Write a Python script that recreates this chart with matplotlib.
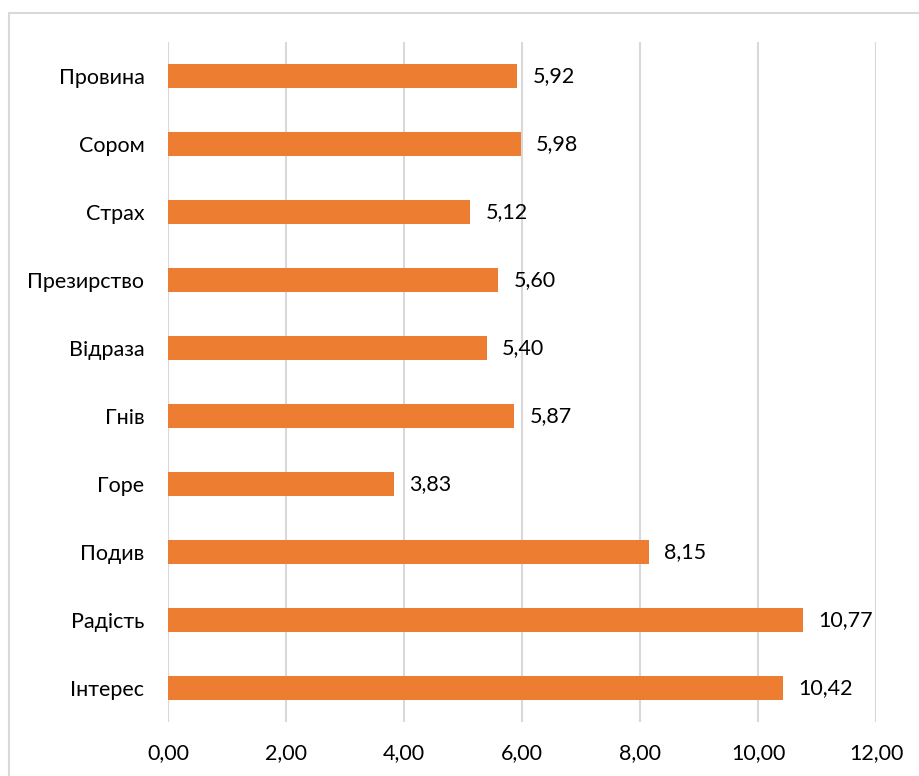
import matplotlib.pyplot as plt
from matplotlib.patches import Rectangle

# emotion scores, listed bottom to top
emotions = ['Інтерес', 'Радість', 'Подив', 'Горе', 'Гнів',
            'Відраза', 'Презирство', 'Страх', 'Сором', 'Провина']
scores = [10.42, 10.77, 8.15, 3.83, 5.87, 5.40, 5.60, 5.12, 5.98, 5.92]
x_ticks = [0, 2, 4, 6, 8, 10, 12]

plt.rcParams['font.family'] = ['Lato', 'DejaVu Sans']

fig = plt.figure(figsize=(9.2, 7.76), dpi=100)
ax = fig.add_axes([168 / 920, 1 - 722 / 776, (876 - 168) / 920, (722 - 42) / 776])

# chart frame (light grey outline)
fig.patches.append(Rectangle((9 / 920, -0.05), 1.0, 1.05 - 13 / 776,
                             transform=fig.transFigure, fill=False,
                             edgecolor='#D9D9D9', linewidth=1.5))

y = range(len(emotions))
ax.barh(y, scores, height=0.35, color='#ED7D31', zorder=3)

for i, v in enumerate(scores):
    ax.annotate(f'{v:.2f}'.replace('.', ','), (v, i), xytext=(11, 0),
                textcoords='offset points', va='center', ha='left',
                fontsize=15.5, color='#000000')

ax.set_xlim(0, 12)
ax.set_ylim(-0.5, len(emotions) - 0.5)
ax.set_xticks(x_ticks)
ax.set_xticklabels([f'{t:.2f}'.replace('.', ',') for t in x_ticks], fontsize=15.5)
ax.set_yticks(list(y))
ax.set_yticklabels(emotions, fontsize=15.5)
ax.tick_params(length=0)
ax.tick_params(axis='x', pad=15)
ax.tick_params(axis='y', pad=17)

ax.grid(axis='x', color='#D9D9D9', linewidth=1.5, zorder=0)
for s in ax.spines.values():
    s.set_visible(False)

plt.savefig('out.png', dpi=100)
plt.close()
